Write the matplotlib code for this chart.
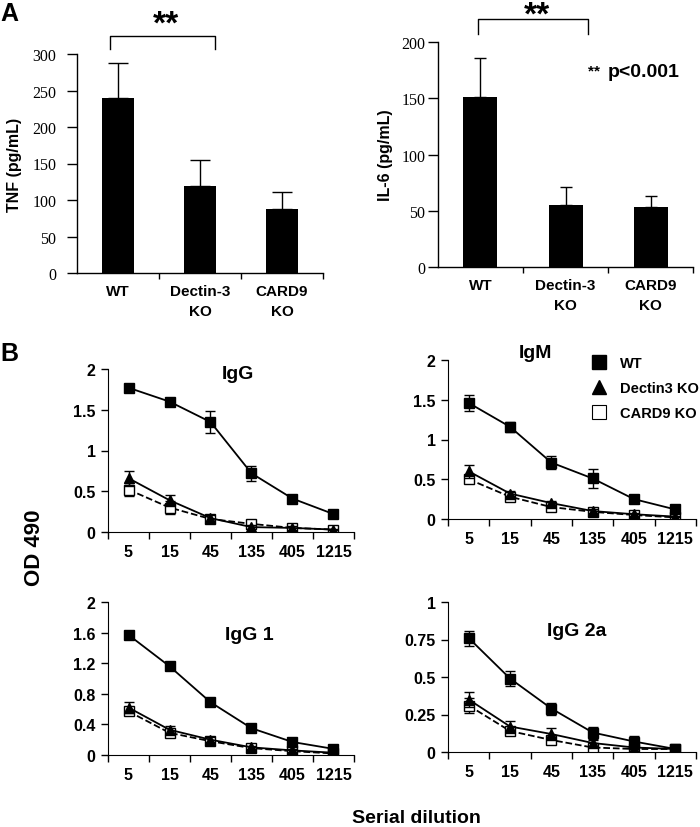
import matplotlib
matplotlib.use("Agg")
import matplotlib.pyplot as plt
from matplotlib.lines import Line2D
from matplotlib.ticker import FormatStrFormatter

plt.rcParams["font.family"] = ["Liberation Sans", "DejaVu Sans"]

# panel A
groups = ["WT", "Dectin-3\nKO", "CARD9\nKO"]
tnf = [240, 119, 88]
tnf_err = [48, 36, 23]
il6 = [151, 55, 53]
il6_err = [35, 16, 10]

# panel B
dilutions = ["5", "15", "45", "135", "405", "1215"]
series = ["WT", "Dectin3 KO", "CARD9 KO"]

igg_wt = [1.77, 1.60, 1.35, 0.72, 0.41, 0.22]
igg_wt_err = [0.03, 0.05, 0.13, 0.09, 0.03, 0.04]
igg_dec = [0.66, 0.39, 0.17, 0.06, 0.05, 0.03]
igg_dec_err = [0.09, 0.07, 0.04, 0.02, 0.02, 0.01]
igg_card = [0.52, 0.30, 0.16, 0.10, 0.05, 0.03]
igg_card_err = [0.08, 0.08, 0.03, 0.04, 0.02, 0.01]

igm_wt = [1.46, 1.16, 0.71, 0.51, 0.25, 0.12]
igm_wt_err = [0.10, 0.06, 0.08, 0.12, 0.03, 0.03]
igm_dec = [0.60, 0.32, 0.20, 0.10, 0.06, 0.03]
igm_dec_err = [0.08, 0.03, 0.03, 0.02, 0.02, 0.01]
igm_card = [0.50, 0.28, 0.15, 0.09, 0.05, 0.02]
igm_card_err = [0.05, 0.03, 0.03, 0.02, 0.01, 0.01]

igg1_wt = [1.57, 1.16, 0.69, 0.35, 0.17, 0.08]
igg1_wt_err = [0.04, 0.03, 0.03, 0.03, 0.03, 0.03]
igg1_dec = [0.62, 0.33, 0.20, 0.10, 0.06, 0.03]
igg1_dec_err = [0.07, 0.05, 0.03, 0.02, 0.02, 0.01]
igg1_card = [0.57, 0.29, 0.18, 0.09, 0.05, 0.02]
igg1_card_err = [0.05, 0.03, 0.03, 0.02, 0.01, 0.01]

igg2a_wt = [0.76, 0.49, 0.29, 0.13, 0.07, 0.02]
igg2a_wt_err = [0.05, 0.05, 0.04, 0.04, 0.04, 0.02]
igg2a_dec = [0.35, 0.17, 0.12, 0.06, 0.03, 0.02]
igg2a_dec_err = [0.05, 0.04, 0.04, 0.02, 0.01, 0.01]
igg2a_card = [0.31, 0.14, 0.08, 0.03, 0.02, 0.02]
igg2a_card_err = [0.05, 0.02, 0.02, 0.02, 0.01, 0.01]

W, H = 700, 828
fig = plt.figure(figsize=(7, 8.28), dpi=100)


def px_axes(x0, x1, ytop, ybot):
    return fig.add_axes([x0 / W, 1 - ybot / H, (x1 - x0) / W, (ybot - ytop) / H])


def bar_panel(ax, vals, errs, ymax, ystep, ylabel, cap, ypad):
    x = range(len(groups))
    ax.bar(x, vals, width=0.4, color="black", zorder=2)
    ax.errorbar(x, vals, yerr=[[0] * len(errs), errs], fmt="none", ecolor="black",
                elinewidth=1, capsize=cap, capthick=1, zorder=1)
    ax.set_xlim(-0.5, 2.5)
    ax.set_ylim(0, ymax)
    ax.set_yticks(range(0, ymax + 1, ystep))
    ax.set_xticks([0.5, 1.5, 2.5], minor=False)
    ax.set_xticklabels([])
    ax.set_xticks(list(x), minor=True)
    ax.set_xticklabels(groups, minor=True, fontweight="bold", fontsize=11, linespacing=1.5)
    ax.tick_params(axis="x", which="major", direction="out", length=4, width=1)
    ax.tick_params(axis="x", which="minor", length=0, pad=8)
    ax.tick_params(axis="y", direction="out", length=7, width=1, pad=ypad,
                   labelsize=11.5, labelfontfamily="Liberation Serif")
    for s in ["top", "right"]:
        ax.spines[s].set_visible(False)
    ax.spines["left"].set_linewidth(1)
    ax.spines["bottom"].set_linewidth(1)
    ax.set_ylabel(ylabel, fontweight="bold", fontsize=11.5)


ax1 = px_axes(77, 323, 55, 274)
bar_panel(ax1, tnf, tnf_err, 300, 50, "TNF (pg/mL)", 7, 8)
ax1.yaxis.set_label_coords(-55 / 246, 0.5)
ax1.plot([-0.1, -0.1, 1.18, 1.18], [307, 325, 325, 307], color="black", lw=1, clip_on=False)
ax1.text(0.59, 341, "**", ha="center", va="center", fontsize=24, fontweight="bold")

ax2 = px_axes(438, 693, 43, 268)
bar_panel(ax2, il6, il6_err, 200, 50, "IL-6 (pg/mL)", 4.5, 2)
ax2.yaxis.set_label_coords(-45 / 255, 0.5)
ax2.plot([-0.03, -0.03, 1.26, 1.26], [207, 220.5, 220.5, 207], color="black", lw=1, clip_on=False)
ax2.text(0.66, 223.5, "**", ha="center", va="center", fontsize=24, fontweight="bold")
ax2.text(1.26, 174, "** ", ha="left", va="center", fontsize=11, fontweight="bold")
ax2.text(1.5, 174, "p<0.001", ha="left", va="center", fontsize=14, fontweight="bold")


def line_panel(ax, wt, wt_e, dec, dec_e, card, card_e, ymax, yticks, title, tx, ty):
    x = range(len(dilutions))
    common = dict(color="black", ecolor="black", elinewidth=1, capsize=3.5, capthick=1,
                  lw=1.3, markersize=7)
    ax.errorbar(x, card, yerr=card_e, fmt="s", ls="--", mfc="white", mec="black",
                zorder=2, **common)
    ax.errorbar(x, dec, yerr=dec_e, fmt="^", ls="-", mfc="black", zorder=3, **common)
    ax.errorbar(x, wt, yerr=wt_e, fmt="s", ls="-", mfc="black", zorder=4, **common)
    ax.set_xlim(-0.5, 5.5)
    ax.set_ylim(0, ymax)
    ax.set_yticks(yticks)
    ax.yaxis.set_major_formatter(FormatStrFormatter("%g"))
    ax.set_xticks([i + 0.5 for i in range(-1, 6)])
    ax.set_xticklabels([])
    ax.set_xticks(list(x), minor=True)
    ax.set_xticklabels(dilutions, minor=True, fontweight="bold", fontsize=11.5)
    ax.tick_params(axis="x", which="major", direction="out", length=5, width=1)
    ax.tick_params(axis="x", which="minor", length=0, pad=9)
    ax.tick_params(axis="y", direction="out", length=5, width=1, pad=4, labelsize=11.5)
    for lab in ax.get_yticklabels():
        lab.set_fontweight("bold")
    for s in ["top", "right"]:
        ax.spines[s].set_visible(False)
    ax.text(tx, ty, title, transform=ax.transAxes, ha="center", va="center",
            fontsize=14, fontweight="bold")


axg = px_axes(108, 354, 370, 533)
line_panel(axg, igg_wt, igg_wt_err, igg_dec, igg_dec_err, igg_card, igg_card_err,
           2, [0, 0.5, 1, 1.5, 2], "IgG", 0.528, 0.97)

axm = px_axes(448, 696, 361, 520)
line_panel(axm, igm_wt, igm_wt_err, igm_dec, igm_dec_err, igm_card, igm_card_err,
           2, [0, 0.5, 1, 1.5, 2], "IgM", 0.351, 1.05)

axg1 = px_axes(108, 354, 603, 756)
line_panel(axg1, igg1_wt, igg1_wt_err, igg1_dec, igg1_dec_err, igg1_card, igg1_card_err,
           2, [0, 0.4, 0.8, 1.2, 1.6, 2], "IgG 1", 0.573, 0.79)

axg2 = px_axes(448, 696, 603, 753)
line_panel(axg2, igg2a_wt, igg2a_wt_err, igg2a_dec, igg2a_dec_err, igg2a_card, igg2a_card_err,
           1, [0, 0.25, 0.5, 0.75, 1], "IgG 2a", 0.52, 0.807)

handles = [
    Line2D([], [], ls="none", marker="s", color="black", markersize=10),
    Line2D([], [], ls="none", marker="^", color="black", markersize=10),
    Line2D([], [], ls="none", marker="s", mfc="white", mec="black", markersize=10, mew=0.8),
]
fig.legend(handles, series, loc="upper left", bbox_to_anchor=(592 / W, 1 - 357 / H),
           frameon=False, prop={"weight": "bold", "size": 10.5}, handlelength=1.0,
           handletextpad=0.9, labelspacing=0.75, borderpad=0, borderaxespad=0)

fig.text(0 / W, 1 - 14 / H, "A", fontsize=18, fontweight="bold", ha="left", va="center")
fig.text(0 / W, 1 - 354 / H, "B", fontsize=18, fontweight="bold", ha="left", va="center")
fig.text(35 / W, 1 - 548 / H, "OD 490", fontsize=16, fontweight="bold", rotation=90,
         ha="center", va="center")
fig.text(416 / W, 1 - 819 / H, "Serial dilution", fontsize=14, fontweight="bold",
         ha="center", va="center")

fig.savefig("out.png", dpi=100)
